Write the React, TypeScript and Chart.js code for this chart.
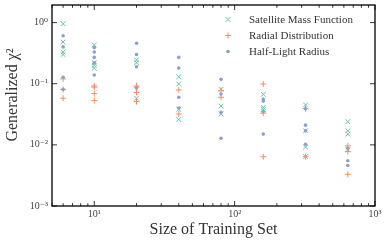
import React, { useEffect, useRef } from "react";
import { Chart, registerables } from "chart.js";

Chart.register(...registerables);

const trainingSizes = [6, 10, 20, 40, 80, 160, 320, 640];

const satelliteMassFunction = [
  [0.96, 0.48, 0.33, 0.30],
  [0.43, 0.22, 0.20, 0.18],
  [0.245, 0.22, 0.058],
  [0.13, 0.099, 0.038, 0.026],
  [0.081, 0.043, 0.032],
  [0.067, 0.041, 0.038],
  [0.045, 0.017, 0.0092, 0.0064],
  [0.024, 0.017, 0.015, 0.0083],
];

const radialDistribution = [
  [0.12, 0.08, 0.058],
  [0.092, 0.088, 0.069, 0.053],
  [0.092, 0.088, 0.072, 0.051],
  [0.079, 0.032],
  [0.077, 0.060],
  [0.099, 0.033, 0.0064],
  [0.039, 0.0064],
  [0.0096, 0.0078, 0.0033],
];

const halfLightRadius = [
  [0.61, 0.40, 0.128, 0.081],
  [0.39, 0.33, 0.27, 0.22, 0.139],
  [0.46, 0.30, 0.19, 0.085],
  [0.27, 0.18, 0.06, 0.04],
  [0.118, 0.068, 0.034, 0.0128],
  [0.056, 0.052, 0.035, 0.015],
  [0.039, 0.021, 0.017, 0.0102],
  [0.0088, 0.0055, 0.0046],
];

const seriesLabels = ["Satellite Mass Function", "Radial Distribution", "Half-Light Radius"];
const seriesColors = ["#66c2a5", "#fc8d62", "#8da0cb"];

const xMajorTicks = [10, 100, 1000];
const yMajorTicks = [0.001, 0.01, 0.1, 1];
const xTitle = "Size of Training Set";
const yTitle = "Generalized \u03c7\u00b2";

const SERIF = "'Liberation Serif', 'DejaVu Serif', serif";
const SUP: Record<string, string> = { "0": "\u2070", "1": "\u00b9", "2": "\u00b2", "3": "\u00b3", "-": "\u207b" };
const powLabel = (v: number) => {
  const e = Math.round(Math.log10(v)).toString();
  return "10" + e.split("").map((c) => SUP[c] || c).join("");
};

const toPoints = (vals: number[][]) =>
  trainingSizes.flatMap((x, i) => vals[i].map((y) => ({ x, y })));

const framePlugin = {
  id: "frame",
  afterDraw(chart: any) {
    const { ctx, chartArea: a, scales } = chart;
    const xs = scales.x;
    const ys = scales.y;
    ctx.save();
    ctx.strokeStyle = "#000";
    ctx.lineWidth = 0.8;
    const drawX = (v: number, len: number) => {
      const p = xs.getPixelForValue(v);
      ctx.beginPath();
      ctx.moveTo(p, a.bottom);
      ctx.lineTo(p, a.bottom - len);
      ctx.moveTo(p, a.top);
      ctx.lineTo(p, a.top + len);
      ctx.stroke();
    };
    for (let d = 1; d <= 100; d *= 10) {
      for (let m = 1; m <= 9; m++) {
        const v = d * m;
        if (v < 5 || v > 1000) continue;
        drawX(v, m === 1 ? 5 : 2.8);
      }
    }
    drawX(1000, 5);
    for (const v of yMajorTicks) {
      const p = ys.getPixelForValue(v);
      ctx.beginPath();
      ctx.moveTo(a.left, p);
      ctx.lineTo(a.left + 5, p);
      ctx.moveTo(a.right, p);
      ctx.lineTo(a.right - 5, p);
      ctx.stroke();
    }
    ctx.lineWidth = 1.3;
    ctx.strokeRect(a.left, a.top, a.right - a.left, a.bottom - a.top);

    ctx.fillStyle = "#333";
    ctx.font = `16px ${SERIF}`;
    ctx.textAlign = "center";
    ctx.textBaseline = "middle";
    ctx.fillText(xTitle, (a.left + a.right) / 2, 230);
    ctx.save();
    ctx.translate(13, 95);
    ctx.rotate(-Math.PI / 2);
    ctx.fillText(yTitle, 0, 0);
    ctx.restore();

    const lx = 228;
    const ly = [19.5, 35.5, 51.5];
    ctx.font = `11px ${SERIF}`;
    ctx.textAlign = "left";
    seriesLabels.forEach((lab, i) => {
      const y = ly[i];
      ctx.strokeStyle = seriesColors[i];
      ctx.fillStyle = seriesColors[i];
      ctx.lineWidth = 1;
      ctx.beginPath();
      if (i === 0) {
        ctx.moveTo(lx - 2.5, y - 2.5);
        ctx.lineTo(lx + 2.5, y + 2.5);
        ctx.moveTo(lx - 2.5, y + 2.5);
        ctx.lineTo(lx + 2.5, y - 2.5);
        ctx.stroke();
      } else if (i === 1) {
        ctx.moveTo(lx - 3, y);
        ctx.lineTo(lx + 3, y);
        ctx.moveTo(lx, y - 3);
        ctx.lineTo(lx, y + 3);
        ctx.stroke();
      } else {
        ctx.arc(lx, y, 1.8, 0, Math.PI * 2);
        ctx.fill();
      }
      ctx.fillStyle = "#333";
      ctx.fillText(lab, 249, y + 0.5);
    });
    ctx.restore();
  },
};

export default function App() {
  const ref = useRef<HTMLCanvasElement | null>(null);
  useEffect(() => {
    document.body.style.margin = "0";
    if (!ref.current) return;
    const pointStyles = ["crossRot", "cross", "circle"];
    const radii = [3.4, 3.0, 1.8];
    const data = [satelliteMassFunction, radialDistribution, halfLightRadius];
    const chart = new Chart(ref.current, {
      type: "scatter",
      data: {
        datasets: data.map((vals, i) => ({
          label: seriesLabels[i],
          data: toPoints(vals),
          pointStyle: pointStyles[i] as any,
          pointRadius: radii[i],
          borderWidth: i === 2 ? 0 : 1,
          borderColor: seriesColors[i],
          backgroundColor: seriesColors[i],
          order: 3 - i,
        })),
      },
      plugins: [framePlugin],
      options: {
        animation: false,
        responsive: true,
        maintainAspectRatio: false,
        layout: { padding: { left: 0, right: 14, top: 5, bottom: 0 } },
        plugins: { legend: { display: false }, tooltip: { enabled: false } },
        scales: {
          x: {
            type: "logarithmic",
            min: 5,
            max: 1000,
            grid: { display: false, drawTicks: false },
            border: { display: false },
            afterBuildTicks: (s: any) => {
              s.ticks = xMajorTicks.map((v) => ({ value: v }));
            },
            afterFit: (s: any) => {
              s.height = 38;
              s.paddingLeft = 0;
              s.paddingRight = 0;
            },
            ticks: {
              callback: (v: any) => powLabel(Number(v)),
              font: { family: SERIF, size: 10 },
              color: "#444",
              padding: 2,
              maxRotation: 0,
            },
          },
          y: {
            type: "logarithmic",
            min: 0.001,
            max: 1.94,
            grid: { display: false, drawTicks: false },
            border: { display: false },
            afterBuildTicks: (s: any) => {
              s.ticks = yMajorTicks.map((v) => ({ value: v }));
            },
            afterFit: (s: any) => {
              s.width = 52;
              s.paddingTop = 0;
              s.paddingBottom = 0;
            },
            ticks: {
              callback: (v: any) => powLabel(Number(v)),
              font: { family: SERIF, size: 10 },
              color: "#444",
              padding: 4,
            },
          },
        },
      },
    });
    return () => chart.destroy();
  }, []);
  return (
    <div style={{ width: 389, height: 244, position: "relative" }}>
      <canvas ref={ref} />
    </div>
  );
}
